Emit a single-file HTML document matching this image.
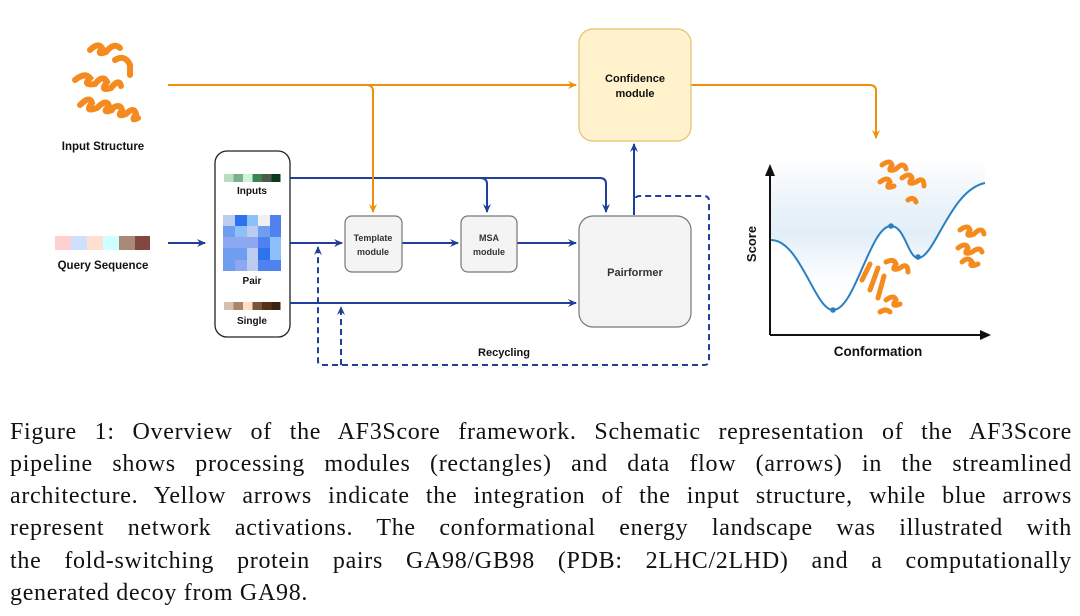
<!DOCTYPE html>
<html><head><meta charset="utf-8"><style>
body{margin:0;width:1080px;height:616px;background:#fff;overflow:hidden;position:relative}
svg{position:absolute;left:0;top:0}
.c{position:absolute;left:10px;width:1062px;font-family:"Liberation Serif",serif;font-size:24px;letter-spacing:0.7px;line-height:32px;text-align:justify;text-align-last:justify;white-space:nowrap;color:#111}
.l{text-align-last:left}
text{font-family:"Liberation Sans",sans-serif;font-weight:bold}
</style></head><body>
<svg width="1080" height="400" viewBox="0 0 1080 400">
<defs>
<marker id="ab" markerWidth="10" markerHeight="10" refX="8" refY="5" orient="auto" markerUnits="userSpaceOnUse"><path d="M0,1 L9,5 L0,9 L3,5 Z" fill="#1f3f9a"/></marker>
<marker id="ao" markerWidth="10" markerHeight="10" refX="8" refY="5" orient="auto" markerUnits="userSpaceOnUse"><path d="M0,1 L9,5 L0,9 L3,5 Z" fill="#f0900a"/></marker>
<linearGradient id="g" x1="0" y1="0" x2="0" y2="1"><stop offset="0" stop-color="#d8e8f4" stop-opacity="0"/><stop offset="0.5" stop-color="#e3eef7"/><stop offset="1" stop-color="#fff" stop-opacity="0"/></linearGradient>
</defs>
<g fill="none" stroke="#f58a1f" stroke-width="6" stroke-linecap="round">
<path d="M75,80 q10,-8 15,-2 q-8,8 5,6 q8,-10 12,-2 q-8,10 4,6 q8,-10 10,-2"/>
<path d="M80,105 q10,-10 12,-2 q-8,10 5,5 q10,-10 12,-2 q-8,8 3,4"/>
<path d="M110,110 q10,-8 12,0 q-6,8 4,4 q8,-8 10,0 q-6,8 2,4"/>
<path d="M90,50 q8,-8 12,-2 q-6,8 4,4 q8,-10 14,-4"/>
<path d="M115,60 q10,-6 15,5 l0,10"/>
</g>
<text x="103" y="150" font-size="11.5" text-anchor="middle" fill="#111">Input Structure</text>
<g><rect x="55" y="236" width="16" height="14" fill="#ffd0d0"/><rect x="71" y="236" width="16" height="14" fill="#cfe0ff"/><rect x="87" y="236" width="16" height="14" fill="#ffe0d0"/><rect x="103" y="236" width="16" height="14" fill="#cfffff"/><rect x="119" y="236" width="16" height="14" fill="#a88a78"/><rect x="135" y="236" width="15" height="14" fill="#804840"/></g>
<text x="103" y="269" font-size="11.5" text-anchor="middle" fill="#111">Query Sequence</text>
<line x1="168" y1="243" x2="205" y2="243" stroke="#1f3f9a" stroke-width="2" marker-end="url(#ab)"/>
<rect x="215" y="151" width="75" height="186" rx="12" fill="#fff" stroke="#222" stroke-width="1.3"/>
<g><rect x="224" y="174" width="9.5" height="8" fill="#b8dcc4"/><rect x="233.5" y="174" width="9.5" height="8" fill="#7cb08c"/><rect x="243" y="174" width="9.5" height="8" fill="#ccf5dc"/><rect x="252.5" y="174" width="9.5" height="8" fill="#3f8450"/><rect x="262" y="174" width="9.5" height="8" fill="#4a5c50"/><rect x="271.5" y="174" width="9" height="8" fill="#0e3a18"/></g>
<text x="252" y="194" font-size="10" text-anchor="middle" fill="#111">Inputs</text>
<g>
<rect x="223" y="215" width="58" height="56" fill="#6f9ef0"/>
<rect x="223" y="215" width="12" height="11" fill="#bcccee"/><rect x="235" y="215" width="12" height="11" fill="#2e72ee"/><rect x="247" y="215" width="11" height="11" fill="#8dc0fb"/><rect x="258" y="215" width="12" height="11" fill="#f0f0f0"/><rect x="270" y="215" width="11" height="11" fill="#4f82ee"/>
<rect x="235" y="226" width="12" height="11" fill="#8dc0fb"/><rect x="247" y="226" width="11" height="11" fill="#bcccee"/><rect x="270" y="226" width="11" height="11" fill="#4f82ee"/>
<rect x="223" y="237" width="35" height="11" fill="#8ba8f0"/><rect x="258" y="237" width="12" height="11" fill="#4f82ee"/><rect x="270" y="237" width="11" height="11" fill="#8dc0fb"/>
<rect x="247" y="248" width="11" height="12" fill="#bcccee"/><rect x="258" y="248" width="12" height="12" fill="#2e72ee"/><rect x="270" y="248" width="11" height="12" fill="#8dc0fb"/>
<rect x="235" y="260" width="12" height="11" fill="#8ba8f0"/><rect x="247" y="260" width="11" height="11" fill="#bcccee"/><rect x="258" y="260" width="23" height="11" fill="#4f82ee"/>
</g>
<text x="252" y="284" font-size="10" text-anchor="middle" fill="#111">Pair</text>
<g><rect x="224" y="302" width="9.5" height="8" fill="#d4c0b0"/><rect x="233.5" y="302" width="9.5" height="8" fill="#a88468"/><rect x="243" y="302" width="9.5" height="8" fill="#ffdcc4"/><rect x="252.5" y="302" width="9.5" height="8" fill="#7e5438"/><rect x="262" y="302" width="9.5" height="8" fill="#57321a"/><rect x="271.5" y="302" width="9" height="8" fill="#3a2410"/></g>
<text x="252" y="324" font-size="10" text-anchor="middle" fill="#111">Single</text>
<g fill="none" stroke="#1f3f9a" stroke-width="2">
<path d="M290,178 H600 q6,0 6,6 V212" marker-end="url(#ab)"/>
<path d="M480,178 q7,0 7,6 V212" marker-end="url(#ab)"/>
<path d="M290,243 H342" marker-end="url(#ab)"/>
<path d="M402,243 H458" marker-end="url(#ab)"/>
<path d="M517,243 H576" marker-end="url(#ab)"/>
<path d="M290,303 H576" marker-end="url(#ab)"/>
<path d="M634,215 V144" marker-end="url(#ab)"/>
</g>
<g fill="none" stroke="#1f3f9a" stroke-width="2" stroke-dasharray="6,4">
<path d="M636,198 q0,-2 4,-2 H704 q5,0 5,5 V360 q0,5 -5,5 H322 q-4,0 -4,-4 V247" marker-end="url(#ab)"/>
<path d="M341,365 V307" marker-end="url(#ab)"/>
</g>
<text x="504" y="356" font-size="11" text-anchor="middle" fill="#111">Recycling</text>
<g fill="none" stroke="#f0900a" stroke-width="2">
<path d="M168,85 H576" marker-end="url(#ao)"/>
<path d="M366,85 q7,0 7,6 V212" marker-end="url(#ao)"/>
<path d="M691,85 H870 q6,0 6,6 V138" marker-end="url(#ao)"/>
</g>
<rect x="579" y="29" width="112" height="112" rx="14" fill="#fff2cc" stroke="#e5c26a" stroke-width="1.2"/>
<text x="635" y="82" font-size="11" text-anchor="middle" fill="#111">Confidence</text>
<text x="635" y="97" font-size="11" text-anchor="middle" fill="#111">module</text>
<rect x="345" y="216" width="57" height="56" rx="7" fill="#f4f4f4" stroke="#777" stroke-width="1.2"/>
<text x="373" y="241" font-size="9" text-anchor="middle" fill="#333">Template</text>
<text x="373" y="255" font-size="9" text-anchor="middle" fill="#333">module</text>
<rect x="461" y="216" width="56" height="56" rx="7" fill="#f4f4f4" stroke="#777" stroke-width="1.2"/>
<text x="489" y="241" font-size="9" text-anchor="middle" fill="#333">MSA</text>
<text x="489" y="255" font-size="9" text-anchor="middle" fill="#333">module</text>
<rect x="579" y="216" width="112" height="111" rx="14" fill="#f4f4f4" stroke="#777" stroke-width="1.2"/>
<text x="635" y="276" font-size="11" text-anchor="middle" fill="#333">Pairformer</text>
<path d="M771,240 C800,240 815,310 833,310 C855,310 870,226 891,226 C905,226 908,258 918,258 C935,258 950,190 985,183 L985,160 L771,160 Z" fill="url(#g)"/>
<path d="M771,240 C800,240 815,310 833,310 C855,310 870,226 891,226 C905,226 908,258 918,258 C935,258 950,190 985,183" fill="none" stroke="#2a7fc0" stroke-width="2"/>
<circle cx="833" cy="310" r="2.8" fill="#2a7fc0"/><circle cx="891" cy="226" r="2.8" fill="#2a7fc0"/><circle cx="918" cy="257" r="2.8" fill="#2a7fc0"/>
<path d="M770,335 V170" stroke="#111" stroke-width="2"/><path d="M765,176 L770,164 L775,176 Z" fill="#111"/>
<path d="M770,335 H985" stroke="#111" stroke-width="2"/><path d="M980,330 L991,335 L980,340 Z" fill="#111"/>
<text x="0" y="0" font-size="13" text-anchor="middle" fill="#111" transform="translate(756,244) rotate(-90)">Score</text>
<text x="878" y="356" font-size="13.5" text-anchor="middle" fill="#111">Conformation</text>
<g fill="none" stroke="#f58a1f" stroke-width="5" stroke-linecap="round">
<path d="M882,165 q8,-6 10,0 q-6,8 4,4 q8,-8 10,0 M880,182 q8,-6 10,0 q-6,8 4,4 M902,178 q8,-6 10,0 q-6,8 4,4 q8,-6 8,4 M908,200 q6,-4 8,2"/>
<path d="M960,230 q8,-6 10,0 q-6,8 4,4 q8,-8 10,0 M958,248 q8,-6 10,0 q-6,8 4,4 q8,-6 10,0 M962,262 q6,-6 10,0 q-4,6 6,2"/>
<path d="M862,280 l8,-16 M870,290 l8,-22 M878,298 l6,-22 M886,262 q8,-4 10,2 q-6,8 4,4 q8,-6 8,4 M886,300 q8,-6 10,0 q-6,8 4,4 M880,312 q6,-4 10,0"/>
</g>
</svg>
<div class="c" style="top:416px">Figure 1: Overview of the AF3Score framework. Schematic representation of the AF3Score</div>
<div class="c" style="top:448px">pipeline shows processing modules (rectangles) and data flow (arrows) in the streamlined</div>
<div class="c" style="top:480px">architecture. Yellow arrows indicate the integration of the input structure, while blue arrows</div>
<div class="c" style="top:512px">represent network activations. The conformational energy landscape was illustrated with</div>
<div class="c" style="top:545px">the fold-switching protein pairs GA98/GB98 (PDB: 2LHC/2LHD) and a computationally</div>
<div class="c l" style="top:577px">generated decoy from GA98.</div>
</body></html>
